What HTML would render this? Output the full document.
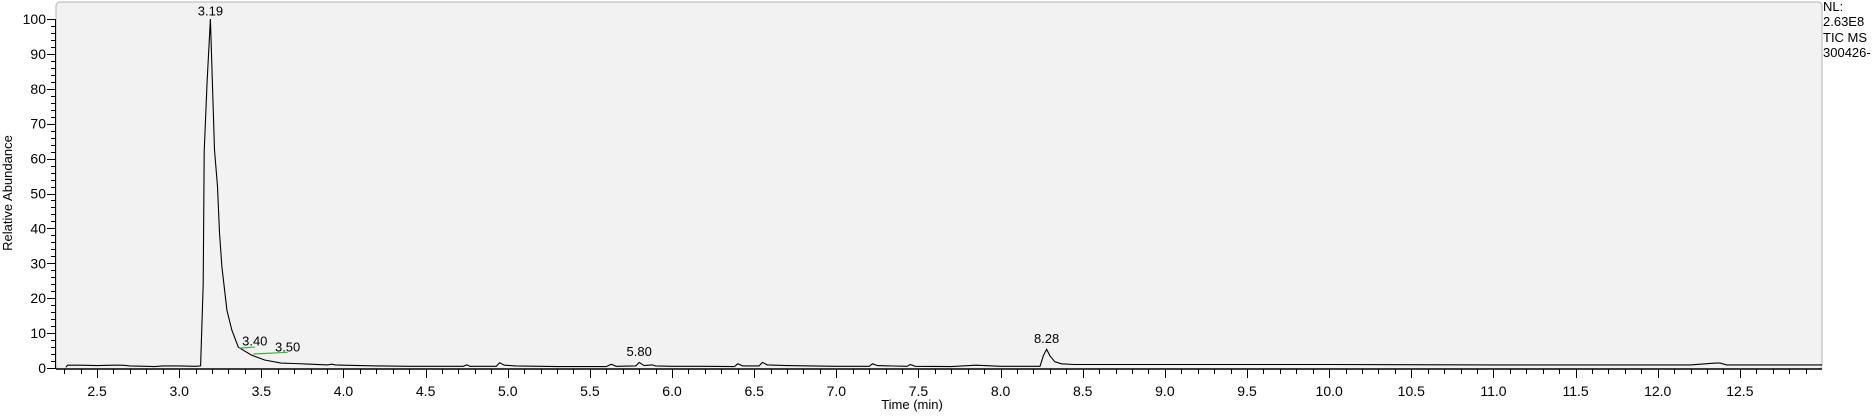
<!DOCTYPE html>
<html><head><meta charset="utf-8"><style>
html,body{margin:0;padding:0;background:#fff;width:1873px;height:416px;overflow:hidden}
svg{display:block;font-family:"Liberation Sans",Arial,sans-serif}
</style></head><body>
<svg id="c" width="1873" height="416">
<rect x="56" y="2" width="1766" height="367" rx="4" fill="#f2f2f2" stroke="#b4b4b4" stroke-width="1"/>
<g id="axes"></g>
<g id="marks"></g>
<text x="12" y="193" font-size="13" text-anchor="middle" transform="rotate(-90 12 193)">Relative Abundance</text>
<text x="912" y="409" font-size="13" text-anchor="middle">Time (min)</text>
<text x="1823" y="11" font-size="13">NL:</text>
<text x="1823" y="26" font-size="13">2.63E8</text>
<text x="1823" y="42" font-size="13">TIC  MS</text>
<text x="1823" y="57" font-size="13">300426-</text>
</svg>
<script>
const times=[2.31,2.32,2.40,2.50,2.60,2.65,2.70,2.80,2.85,2.90,3.00,3.10,3.13,3.146,3.152,3.17,3.19,3.215,3.233,3.245,3.26,3.29,3.32,3.36,3.40,3.44,3.52,3.62,3.70,3.80,3.90,3.93,3.95,4.00,4.10,4.20,4.40,4.60,4.73,4.75,4.77,4.93,4.95,4.98,5.05,5.30,5.60,5.63,5.66,5.78,5.80,5.83,5.88,5.90,6.00,6.20,6.38,6.40,6.43,6.53,6.55,6.58,6.70,7.00,7.20,7.22,7.25,7.43,7.45,7.48,7.70,7.85,8.00,8.24,8.26,8.28,8.30,8.33,8.37,8.45,9.00,10.0,11.0,12.20,12.35,12.38,12.42,12.50,13.0];
const values=[0.2,0.8,0.8,0.7,0.8,0.8,0.6,0.5,0.4,0.6,0.6,0.5,0.6,24,62,82,100,62.5,52,38.7,29,16.6,10.9,6,4.8,3.7,2.3,1.4,1.3,1.1,0.9,1.1,0.9,0.8,0.7,0.6,0.5,0.5,0.5,0.9,0.5,0.5,1.5,0.8,0.6,0.4,0.4,1.1,0.5,0.6,1.6,0.7,0.9,0.6,0.5,0.5,0.4,1.2,0.6,0.6,1.6,0.9,0.7,0.5,0.5,1.2,0.7,0.5,1.0,0.5,0.4,0.8,0.5,0.5,3.5,5.4,3.5,1.8,1.2,1.0,1.0,1.0,0.9,0.9,1.4,1.4,0.9,0.9,0.9];
const peakLabelTimes=[3.19,3.46,3.66,5.80,8.28];
const peakLabels=["3.19","3.40","3.50","5.80","8.28"];
const peakLabelValues=[101,6.4,4.7,3.4,7.2];
const greenStart=[3.365,3.45];
const greenEnd=[3.46,3.66];
const greenValStart=[5.7,4.0];
const greenValEnd=[6.0,4.5];
const xTicks=["2.5","3.0","3.5","4.0","4.5","5.0","5.5","6.0","6.5","7.0","7.5","8.0","8.5","9.0","9.5","10.0","10.5","11.0","11.5","12.0","12.5"];
const yTicks=["0","10","20","30","40","50","60","70","80","90","100"];
const X0=2.25,X1=13.0,PX0=56,PX1=1822,Y0=368,Y100=19;
const sx=t=>PX0+(t-X0)/(X1-X0)*(PX1-PX0);
const sy=v=>Y0-(v/100)*(Y0-Y100);
const NS="http://www.w3.org/2000/svg";
const axes=document.getElementById('axes'),marks=document.getElementById('marks');
function mk(tag,attrs,parent){const e=document.createElementNS(NS,tag);for(const k in attrs)e.setAttribute(k,attrs[k]);parent.appendChild(e);return e;}
const xl=mk('line',{x1:PX0,y1:369,x2:PX1,y2:369,stroke:'#000','stroke-width':1.5},axes);


const yl=mk('line',{x1:55.5,y1:Y100,x2:55.5,y2:369,stroke:'#000','stroke-width':1},axes);


for(let i=23;i<=129;i++){const t=i/10;const x=Math.round(sx(t))+0.5;const major=i%5===0;
 const tk=mk('line',{x1:x,y1:369,x2:x,y2:major?378:374,stroke:'#000','stroke-width':1},axes);
 
 }
xTicks.forEach(s=>{const tx=mk('text',{x:sx(parseFloat(s)),y:396,'font-size':14,'text-anchor':'middle'},axes);tx.textContent=s;
 
 });
for(let v=0;v<=100;v+=2){const y=Math.round(sy(v))+0.5;const major=v%10===0;
 const tk=mk('line',{x1:major?47:51,y1:y,x2:55,y2:y,stroke:'#000','stroke-width':1},axes);
 
 }
yTicks.forEach(s=>{const ty=mk('text',{x:46,y:sy(parseFloat(s))+5,'font-size':14,'text-anchor':'end'},axes);ty.textContent=s;
 
 });
const pts=times.map((t,i)=>sx(t).toFixed(1)+','+sy(values[i]).toFixed(1)).join(' ');
const pl=mk('polyline',{points:pts,fill:'none',stroke:'#000','stroke-width':1.1},marks);


greenStart.forEach((t,i)=>{const g=mk('line',{x1:sx(t),y1:sy(greenValStart[i]),x2:sx(greenEnd[i]),y2:sy(greenValEnd[i]),stroke:'#3cb43c','stroke-width':1.2},marks);
 
 });
peakLabelTimes.forEach((t,i)=>{const p=mk('text',{x:sx(t),y:sy(peakLabelValues[i]),'font-size':13,'text-anchor':'middle'},marks);p.textContent=peakLabels[i];
 
 });
</script>
</body></html>
